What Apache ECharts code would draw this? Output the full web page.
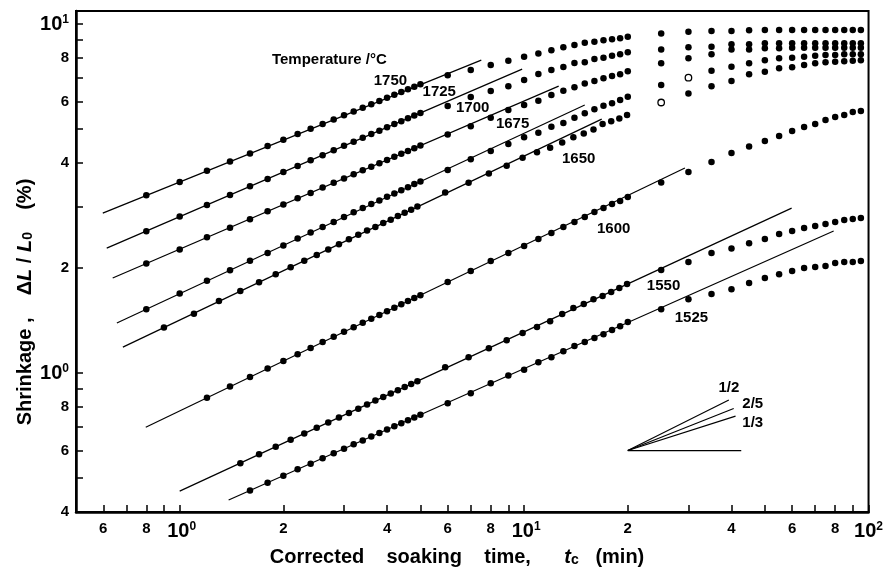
<!DOCTYPE html>
<html>
<head>
<meta charset="utf-8">
<script src="https://cdn.jsdelivr.net/npm/echarts@6/dist/echarts.min.js"></script>
<style>
html, body { margin: 0; padding: 0; background: #fff; }
#main { width: 886px; height: 575px; }
</style>
</head>
<body>
<div id="main"></div>
<script>
// soaking times (min)
var t08 = [0.8, 1.0, 1.2, 1.4, 1.6, 1.8, 2.0, 2.2, 2.4, 2.6, 2.8, 3.0, 3.2, 3.4, 3.6, 3.8, 4.0, 4.2, 4.4, 4.6, 4.8, 5.0];
var t09 = [0.9, 1.1, 1.3, 1.5, 1.7, 1.9, 2.1, 2.3, 2.5, 2.7, 2.9, 3.1, 3.3, 3.5, 3.7, 3.9, 4.1, 4.3, 4.5, 4.7, 4.9];
var t12 = [1.2, 1.4, 1.6, 1.8, 2.0, 2.2, 2.4, 2.6, 2.8, 3.0, 3.2, 3.4, 3.6, 3.8, 4.0, 4.2, 4.4, 4.6, 4.8, 5.0];
var t15 = [1.5, 1.7, 1.9, 2.1, 2.3, 2.5, 2.7, 2.9, 3.1, 3.3, 3.5, 3.7, 3.9, 4.1, 4.3, 4.5, 4.7, 4.9];
var t16 = [1.6, 1.8, 2.0, 2.2, 2.4, 2.6, 2.8, 3.0, 3.2, 3.4, 3.6, 3.8, 4.0, 4.2, 4.4, 4.6, 4.8, 5.0];
var tailA = [6, 7, 8, 9, 10, 11, 12, 13, 14, 15, 16, 17, 18, 19, 20, 25, 30, 35, 40, 45, 50, 55, 60, 65, 70, 75, 80, 85, 90, 95];
var tailB = [5.9, 6.9, 7.9, 8.9, 9.9, 10.9, 11.9, 12.9, 13.9, 14.9, 15.9, 16.9, 17.9, 18.9, 19.9, 25, 30, 35, 40, 45, 50, 55, 60, 65, 70, 75, 80, 85, 90, 95];

var temps = ['1750', '1725', '1700', '1675', '1650', '1600', '1550', '1525'];

// shrinkage (%)
var y1750 = [3.23, 3.53, 3.80, 4.04, 4.26, 4.47, 4.66, 4.84, 5.01, 5.17, 5.33, 5.48, 5.62, 5.76, 5.89, 6.02, 6.15, 6.27, 6.39, 6.50, 6.61, 6.72,
	7.14, 7.38, 7.63, 7.85, 8.06, 8.24, 8.42, 8.58, 8.71, 8.84, 8.90, 8.98, 9.04, 9.10, 9.20,
	9.40, 9.50, 9.55, 9.55, 9.60, 9.61, 9.61, 9.61, 9.61, 9.61, 9.61, 9.61, 9.61, 9.61, 9.61];
var y1725 = [2.55, 2.81, 3.03, 3.24, 3.43, 3.60, 3.77, 3.92, 4.07, 4.21, 4.35, 4.48, 4.60, 4.72, 4.84, 4.95, 5.06, 5.17, 5.27, 5.37, 5.47, 5.56,
	5.82, 6.18, 6.43, 6.64, 6.91, 7.19, 7.38, 7.53, 7.73, 7.77, 7.94, 8.01, 8.11, 8.20, 8.30,
	8.46, 8.58, 8.61, 8.75, 8.75, 8.81, 8.81, 8.81, 8.81, 8.81, 8.81, 8.81, 8.81, 8.81, 8.81];
var y1700 = [2.06, 2.26, 2.45, 2.61, 2.76, 2.91, 3.04, 3.17, 3.28, 3.40, 3.51, 3.61, 3.71, 3.81, 3.90, 3.99, 4.08, 4.17, 4.25, 4.33, 4.41, 4.49,
	4.83, 5.10, 5.39, 5.67, 5.86, 6.03, 6.26, 6.44, 6.59, 6.76, 6.87, 7.00, 7.10, 7.18, 7.33,
	7.72, 7.98, 8.20, 8.46, 8.46, 8.52, 8.52, 8.55, 8.55, 8.55, 8.55, 8.55, 8.55, 8.55, 8.55];
var y1675 = [1.525, 1.69, 1.84, 1.97, 2.10, 2.21, 2.32, 2.43, 2.53, 2.62, 2.71, 2.80, 2.89, 2.97, 3.05, 3.12, 3.20, 3.27, 3.34, 3.41, 3.48, 3.54,
	3.82, 4.10, 4.33, 4.53, 4.74, 4.88, 5.08, 5.21, 5.39, 5.55, 5.70, 5.83, 5.93, 6.06, 6.19,
	6.69, 7.02, 7.35, 7.54, 7.72, 7.88, 7.98, 8.01, 8.06, 8.11, 8.15, 8.15, 8.19, 8.19, 8.19];
var y1650 = [1.35, 1.48, 1.61, 1.72, 1.82, 1.92, 2.01, 2.10, 2.18, 2.26, 2.34, 2.42, 2.49, 2.56, 2.62, 2.69, 2.75, 2.82, 2.88, 2.94, 3.00,
	3.29, 3.51, 3.73, 3.93, 4.14, 4.29, 4.42, 4.58, 4.74, 4.86, 4.99, 5.17, 5.27, 5.36, 5.49,
	5.96, 6.33, 6.64, 6.87, 7.18, 7.30, 7.47, 7.52, 7.63, 7.72, 7.77, 7.80, 7.83, 7.85, 7.88];
var y1600 = [0.850, 0.915, 0.974, 1.030, 1.083, 1.133, 1.181, 1.227, 1.270, 1.313, 1.353, 1.393, 1.431, 1.468, 1.504, 1.539, 1.574, 1.608, 1.640, 1.672,
	1.823, 1.960, 2.094, 2.207, 2.312, 2.421, 2.518, 2.620, 2.708, 2.80, 2.893, 2.970, 3.050, 3.111, 3.194,
	3.514, 3.766, 4.023, 4.269, 4.457, 4.622, 4.776, 4.936, 5.068, 5.17, 5.31, 5.414, 5.487, 5.596, 5.633];
var y1550 = [0.552, 0.585, 0.615, 0.644, 0.671, 0.697, 0.722, 0.746, 0.769, 0.791, 0.813, 0.834, 0.854, 0.874, 0.893, 0.912, 0.930, 0.948,
	1.040, 1.111, 1.179, 1.243, 1.302, 1.355, 1.409, 1.476, 1.536, 1.577, 1.629, 1.662, 1.707, 1.752, 1.799,
	1.973, 2.080, 2.207, 2.274, 2.357, 2.421, 2.502, 2.552, 2.603, 2.638, 2.673, 2.708, 2.744, 2.762, 2.780];
var y1525 = [0.461, 0.485, 0.508, 0.530, 0.550, 0.570, 0.589, 0.607, 0.625, 0.641, 0.658, 0.674, 0.689, 0.704, 0.718, 0.733, 0.746, 0.760,
	0.820, 0.876, 0.936, 0.984, 1.023, 1.075, 1.111, 1.156, 1.195, 1.227, 1.260, 1.293, 1.328, 1.363, 1.400,
	1.525, 1.629, 1.684, 1.740, 1.811, 1.872, 1.921, 1.960, 2.0, 2.013, 2.026, 2.067, 2.080, 2.080, 2.094];

var times = [t08.concat(tailA), t08.concat(tailA), t08.concat(tailA), t08.concat(tailA),
	t09.concat(tailB), t12.concat(tailA), t15.concat(tailB), t16.concat(tailA)];
var shrink = [y1750, y1725, y1700, y1675, y1650, y1600, y1550, y1525];

// open markers: [series index, time]
var openPts = [[4, 25], [3, 30]];

// fitted straight lines (start / end)
var fitX0 = [0.598, 0.614, 0.639, 0.657, 0.684, 0.797, 1.0, 1.387];
var fitY0 = [2.874, 2.281, 1.872, 1.391, 1.187, 0.700, 0.459, 0.433];
var fitX1 = [7.51, 9.87, 12.6, 15.0, 16.8, 29.3, 59.8, 79.2];
var fitY1 = [7.88, 7.43, 6.64, 5.86, 5.34, 3.87, 2.97, 2.553];

// slope key
var slopeX0 = 20, slopeY0 = 0.6;
var slopeEndX = [39.3, 40.6, 41.1, 42.7];
var slopeEndY = [0.837, 0.792, 0.753, 0.6];

// text labels inside the plot
var labText = ['1750', '1725', '1700', '1675', '1650', '1600', '1550', '1525', '1/2', '2/5', '1/3'];
var labX = [4.09, 5.67, 7.09, 9.26, 14.4, 18.2, 25.4, 30.6, 39.3, 46.1, 46.1];
var labY = [6.87, 6.39, 5.77, 5.17, 4.12, 2.59, 1.775, 1.437, 0.909, 0.815, 0.721];

// axis ticks / labels
var xTicks = [0.5, 0.6, 0.7, 0.8, 0.9, 1, 2, 3, 4, 5, 6, 7, 8, 9, 10, 20, 30, 40, 50, 60, 70, 80, 90, 100];
var xLabels = [0.6, 0.8, 1, 2, 4, 6, 8, 10, 20, 40, 60, 80, 100];
var yTicks = [0.4, 0.5, 0.6, 0.7, 0.8, 0.9, 1, 2, 3, 4, 5, 6, 7, 8, 9, 10];
var yLabels = [0.4, 0.6, 0.8, 1, 2, 4, 6, 8, 10];

var FONT = '"Liberation Sans", Arial, sans-serif';

function decade(v) {
	return Math.floor(Math.log(v) / Math.LN10 + 1e-6);
}
function mant(v) {
	return Math.round(v / Math.pow(10, decade(v)));
}

var tickRich = {
	n: { fontSize: 15, fontWeight: 'bold', fontFamily: FONT, color: '#000' },
	b: { fontSize: 20, fontWeight: 'bold', fontFamily: FONT, color: '#000' },
	s: { fontSize: 12, fontWeight: 'bold', fontFamily: FONT, color: '#000', verticalAlign: 'top', lineHeight: 12 },
	sp: { width: 4 }
};

var series = [];
for (var k = 0; k < temps.length; k++) {
	var pts = [];
	for (var j = 0; j < times[k].length; j++) {
		var item = { value: [times[k][j], shrink[k][j]] };
		for (var q = 0; q < openPts.length; q++) {
			if (openPts[q][0] === k && openPts[q][1] === times[k][j]) {
				item.itemStyle = { color: '#fff', borderColor: '#000', borderWidth: 1.3 };
			}
		}
		pts.push(item);
	}
	series.push({
		name: temps[k],
		type: 'scatter',
		data: pts,
		symbol: 'circle',
		symbolSize: 6.5,
		itemStyle: { color: '#000', opacity: 1 },
		z: 3
	});
	series.push({
		name: temps[k] + ' fit',
		type: 'line',
		data: [[fitX0[k], fitY0[k]], [fitX1[k], fitY1[k]]],
		symbol: 'none',
		lineStyle: { color: '#000', width: 1.2 },
		z: 2
	});
}
for (var s = 0; s < slopeEndX.length; s++) {
	series.push({
		type: 'line',
		data: [[slopeX0, slopeY0], [slopeEndX[s], slopeEndY[s]]],
		symbol: 'none',
		lineStyle: { color: '#000', width: 1.2 },
		z: 2
	});
}
var labData = [];
for (var m = 0; m < labText.length; m++) {
	labData.push({ value: [labX[m], labY[m]], name: labText[m] });
}
var labelStyle = {
	show: true,
	position: [0, 0],
	align: 'center',
	verticalAlign: 'middle',
	formatter: '{b}',
	color: '#000',
	fontSize: 15,
	fontWeight: 'bold',
	fontFamily: FONT
};
series.push({
	type: 'scatter',
	data: labData,
	symbolSize: 0,
	silent: true,
	z: 4,
	itemStyle: { opacity: 1 },
	label: labelStyle
});
series.push({
	type: 'scatter',
	data: [{ value: [2.72, 7.88], name: 'Temperature /°C' }],
	symbolSize: 0,
	silent: true,
	itemStyle: { opacity: 1 },
	label: labelStyle
});

var myChart = echarts.init(document.getElementById('main'), null, { renderer: 'canvas' });

var option = {
	backgroundColor: '#fff',
	animation: false,
	grid: {
		left: 76, right: 16, top: 11, bottom: 63,
		show: true, borderColor: '#000', borderWidth: 2, backgroundColor: 'transparent'
	},
	xAxis: {
		type: 'log',
		logBase: 10,
		min: 0.5,
		max: 100,
		axisLine: { show: true, onZero: false, lineStyle: { color: '#000', width: 2.5 } },
		axisTick: { show: true, inside: true, length: 7, lineStyle: { color: '#000', width: 1.5 }, customValues: xTicks },
		axisLabel: {
			customValues: xLabels,
			margin: 9,
			color: '#000',
			formatter: function(v) {
				if (mant(v) === 1) {
					return (v >= 100 ? '' : '{sp|}') + '{b|10}{s|' + decade(v) + '}';
				}
				return '{n|' + mant(v) + '}';
			},
			rich: tickRich
		},
		splitLine: { show: false },
		minorTick: { show: false }
	},
	yAxis: {
		type: 'log',
		logBase: 10,
		min: 0.4,
		max: 10.9,
		axisLine: { show: true, onZero: false, lineStyle: { color: '#000', width: 2.5 } },
		axisTick: { show: true, inside: true, length: 7, lineStyle: { color: '#000', width: 1.5 }, customValues: yTicks },
		axisLabel: {
			customValues: yLabels,
			margin: 7,
			color: '#000',
			formatter: function(v) {
				if (mant(v) === 1) {
					return '{b|10}{s|' + decade(v) + '}';
				}
				return '{n|' + mant(v) + '}';
			},
			rich: tickRich
		},
		splitLine: { show: false },
		minorTick: { show: false }
	},
	graphic: [{
		type: 'text',
		x: 457,
		y: 557,
		style: {
			text: '{r|Corrected    soaking    time,      }{i|t}{sub|c}{r|   (min)}',
			align: 'center',
			verticalAlign: 'middle',
			rich: {
				r: { fontSize: 20, fontWeight: 'bold', fontFamily: FONT, fill: '#000' },
				i: { fontSize: 20, fontWeight: 'bold', fontStyle: 'italic', fontFamily: FONT, fill: '#000' },
				sub: { fontSize: 14, fontWeight: 'bold', fontFamily: FONT, fill: '#000', verticalAlign: 'bottom' }
			}
		}
	}, {
		type: 'text',
		x: 25,
		y: 302,
		rotation: Math.PI / 2,
		style: {
			text: '{r|Shrinkage ,    Δ}{i|L}{r| / }{i|L}{sub|0}{r|    (%)}',
			align: 'center',
			verticalAlign: 'middle',
			rich: {
				r: { fontSize: 20, fontWeight: 'bold', fontFamily: FONT, fill: '#000' },
				i: { fontSize: 20, fontWeight: 'bold', fontStyle: 'italic', fontFamily: FONT, fill: '#000' },
				sub: { fontSize: 14, fontWeight: 'bold', fontFamily: FONT, fill: '#000', verticalAlign: 'bottom' }
			}
		}
	}],
	series: series
};
myChart.setOption(option);
</script>
</body>
</html>
